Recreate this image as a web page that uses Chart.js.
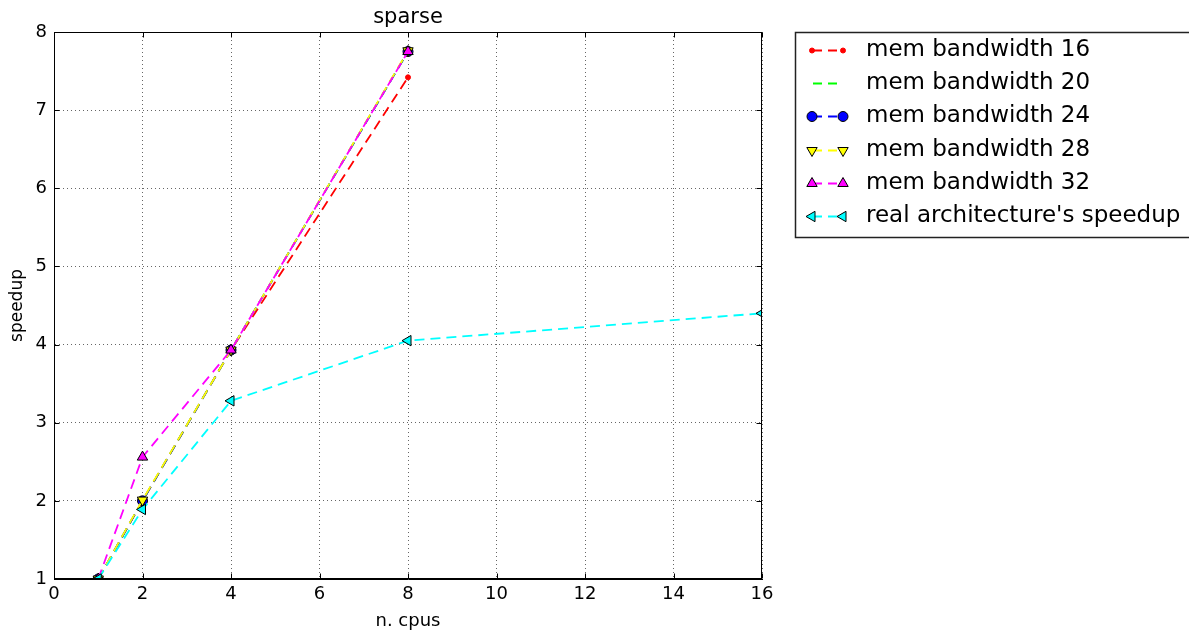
<!DOCTYPE html>
<html>
<head>
<meta charset="utf-8">
<title>sparse</title>
<script src="https://cdn.jsdelivr.net/npm/chart.js@4/dist/chart.umd.min.js"></script>
<style>
  html, body { margin: 0; padding: 0; background: #fff; }
  #wrap { width: 1189px; height: 638px; }
</style>
</head>
<body>
<div id="wrap"><canvas id="chart" width="1189" height="638"></canvas></div>
<script>
// Number of CPUs for the simulated runs and for the real machine
const cpus = [1, 2, 4, 8];
const cpusReal = [1, 2, 4, 8, 16];

// Speedup per memory bandwidth setting
const bw16 = [1, 2.0, 3.93, 7.42];
const bw20 = [1, 2.0, 3.93, 7.75];
const bw24 = [1, 2.0, 3.93, 7.75];
const bw28 = [1, 2.01, 3.93, 7.76];
const bw32 = [1, 2.56, 3.93, 7.75];
const realSpeedup = [1, 1.89, 3.28, 4.05, 4.40];

const seriesLabels = [
  'mem bandwidth 16',
  'mem bandwidth 20',
  'mem bandwidth 24',
  'mem bandwidth 28',
  'mem bandwidth 32',
  "real architecture's speedup"
];

const xTickValues = [0, 2, 4, 6, 8, 10, 12, 14, 16];
const yTickValues = [1, 2, 3, 4, 5, 6, 7, 8];

const FONT = 'DejaVu Sans';
const DASH = [10, 6];

function pts(xs, ys) {
  return ys.map((v, i) => ({ x: xs[i], y: v }));
}

function series(label, xs, ys, color, style, radius, rotation, order, edge) {
  return {
    label: label,
    data: pts(xs, ys),
    borderColor: color,
    backgroundColor: color,
    borderWidth: 1.8,
    borderDash: DASH,
    fill: false,
    tension: 0,
    pointStyle: style,
    pointRadius: radius,
    pointHoverRadius: radius,
    pointRotation: rotation,
    pointBackgroundColor: color,
    pointBorderColor: edge,
    pointBorderWidth: 1,
    order: order
  };
}

const datasets = [
  series(seriesLabels[0], cpus, bw16, '#ff0000', 'circle', 2.5, 0, 5, '#ff0000'),
  series(seriesLabels[1], cpus, bw20, '#00ff00', 'circle', 0, 0, 4, '#000'),
  series(seriesLabels[2], cpus, bw24, '#0000ff', 'circle', 5, 0, 3, '#000'),
  series(seriesLabels[3], cpus, bw28, '#ffff00', 'triangle', 6, 180, 2, '#000'),
  series(seriesLabels[4], cpus, bw32, '#ff00ff', 'triangle', 6, 0, 1, '#000'),
  series(seriesLabels[5], cpusReal, realSpeedup, '#00ffff', 'triangle', 6, 270, 0, '#000')
];

// Frame, inward ticks, title and legend box drawn on top of the chart
const decorations = {
  id: 'decorations',
  afterDraw(chart) {
    const { ctx, chartArea: a, scales } = chart;
    const L = Math.round(a.left) + 0.5, R = Math.round(a.right) - 0.5;
    const T = Math.round(a.top) + 0.5, B = Math.round(a.bottom) - 0.5;
    ctx.save();
    ctx.strokeStyle = '#000';
    ctx.lineWidth = 1;
    ctx.setLineDash([]);
    ctx.strokeRect(L, T, R - L, B - T);

    // inward tick marks on all four sides
    ctx.beginPath();
    xTickValues.forEach(v => {
      const px = Math.round(scales.x.getPixelForValue(v)) + 0.5;
      ctx.moveTo(px, B); ctx.lineTo(px, B - 5);
      ctx.moveTo(px, T); ctx.lineTo(px, T + 5);
    });
    yTickValues.forEach(v => {
      const py = Math.round(scales.y.getPixelForValue(v)) + 0.5;
      ctx.moveTo(L, py); ctx.lineTo(L + 5, py);
      ctx.moveTo(R, py); ctx.lineTo(R - 5, py);
    });
    ctx.stroke();

    // title
    ctx.fillStyle = '#000';
    ctx.font = '21px "' + FONT + '"';
    ctx.textAlign = 'center';
    ctx.textBaseline = 'alphabetic';
    ctx.fillText('sparse', (a.left + a.right) / 2, 23);

    // legend
    const boxL = 795.5, boxT = 32.5, boxB = 237.5;
    ctx.lineWidth = 1.5;
    ctx.strokeStyle = '#222';
    ctx.strokeRect(boxL, boxT, 1200 - boxL, boxB - boxT);

    const rowY0 = 50, rowStep = 33.2;
    const x1 = 812, x2 = 843, textX = 866;
    chart.data.datasets.forEach((ds, i) => {
      const y = Math.round(rowY0 + i * rowStep) + 0.5;
      ctx.save();
      ctx.strokeStyle = ds.borderColor;
      ctx.lineWidth = ds.borderWidth;
      ctx.setLineDash([9, 6]);
      ctx.lineDashOffset = -1;
      ctx.beginPath();
      ctx.moveTo(x1, y);
      ctx.lineTo(x2, y);
      ctx.stroke();
      ctx.restore();
      if (ds.pointRadius > 0) {
        [x1, x2].forEach(px => {
          ctx.save();
          ctx.setLineDash([]);
          ctx.fillStyle = ds.pointBackgroundColor;
          ctx.strokeStyle = ds.pointBorderColor;
          ctx.lineWidth = ds.pointBorderWidth;
          Chart.helpers.drawPoint(ctx, {
            pointStyle: ds.pointStyle,
            rotation: ds.pointRotation,
            radius: ds.pointRadius,
            borderWidth: ds.pointBorderWidth
          }, px, y);
          ctx.restore();
        });
      }
      ctx.fillStyle = '#000';
      ctx.font = '23px "' + FONT + '"';
      ctx.textAlign = 'left';
      ctx.textBaseline = 'middle';
      ctx.fillText(ds.label, textX, y);
    });
    ctx.restore();
  }
};

const tickFont = { family: FONT, size: 18 };
const gridStyle = { color: 'rgba(0,0,0,0.6)', lineWidth: 1, drawTicks: false };
const borderStyle = { display: true, color: '#000', width: 1, dash: [1, 3] };

new Chart(document.getElementById('chart'), {
  type: 'line',
  data: { datasets: datasets },
  options: {
    responsive: false,
    animation: false,
    devicePixelRatio: 1,
    layout: { padding: { top: 32, right: 427, bottom: 0, left: 0 } },
    plugins: {
      legend: { display: false },
      title: { display: false },
      tooltip: { enabled: false }
    },
    scales: {
      x: {
        type: 'linear',
        min: 0,
        max: 16,
        ticks: {
          stepSize: 2,
          font: tickFont,
          color: '#000',
          padding: 5,
          maxRotation: 0
        },
        grid: gridStyle,
        border: borderStyle,
        title: {
          display: true,
          text: 'n. cpus',
          color: '#000',
          font: { family: FONT, size: 18 },
          padding: { top: 0, bottom: 6 }
        },
        afterFit(scale) { scale.height = 59; }
      },
      y: {
        type: 'linear',
        min: 1,
        max: 8,
        ticks: {
          stepSize: 1,
          font: tickFont,
          color: '#000',
          padding: 7
        },
        grid: gridStyle,
        border: borderStyle,
        title: {
          display: true,
          text: 'speedup',
          color: '#000',
          font: { family: FONT, size: 17 },
          padding: { top: 7, bottom: 0 }
        },
        afterFit(scale) { scale.width = 54; }
      }
    }
  },
  plugins: [decorations]
});
</script>
</body>
</html>
